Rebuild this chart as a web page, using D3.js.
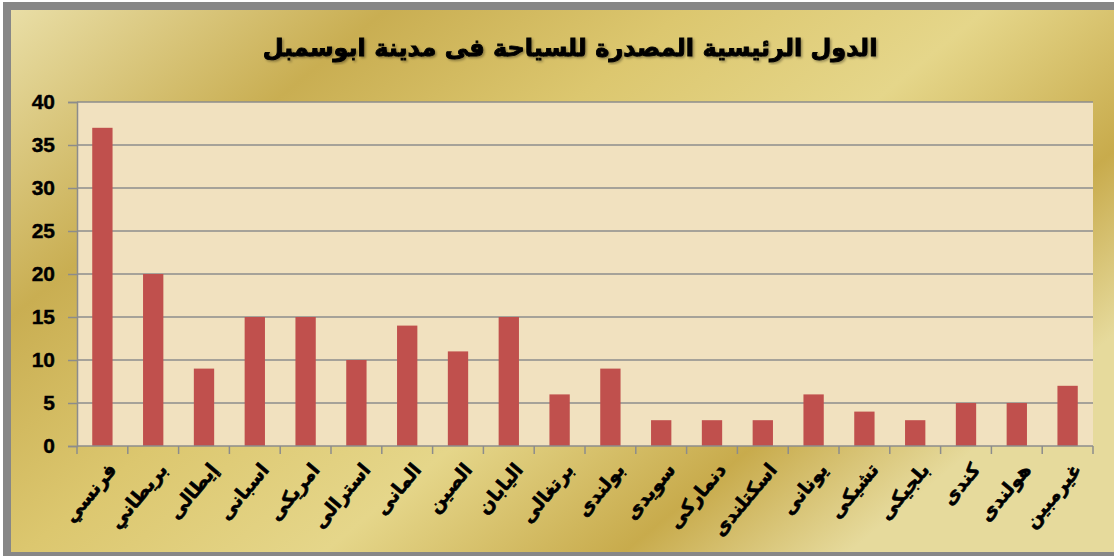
<!DOCTYPE html>
<html lang="ar">
<head>
    <meta charset="UTF-8">
    <title>الدول الرئيسية المصدرة للسياحة</title>
    <script src="https://d3js.org/d3.v7.min.js"></script>
    <style>
        body { margin: 0; background: #ffffff; }
        svg { display: block; }
    </style>
</head>
<body>
    <div id="chart"></div>

    <script>
        const countries = ["فرنسي", "بريطاني", "إيطالى", "اسبانى", "امريكى", "استرالى", "المانى", "الصين", "اليابان", "برتغالى",
            "بولندى", "سويدى", "دنماركى", "اسكتلندى", "يونانى", "تشيكى", "بلجيكى", "كندى", "هولندى", "غيرمبين"];
        const tourists = [37, 20, 9, 15, 15, 10, 14, 11, 15, 6, 9, 3, 3, 3, 6, 4, 3, 5, 5, 7];
        const yTicks = [0, 5, 10, 15, 20, 25, 30, 35, 40];
        const chartTitle = "الدول الرئيسية المصدرة للسياحة فى مدينة ابوسمبل";

        const W = 1114, H = 556;
        const margin = { top: 102, right: 21, bottom: 110, left: 77 };
        const width = W - margin.left - margin.right;
        const height = H - margin.top - margin.bottom;

        const svg = d3.select("#chart").append("svg")
            .attr("width", W)
            .attr("height", H);

        const defs = svg.append("defs");
        const gold = defs.append("linearGradient")
            .attr("id", "gold")
            .attr("x1", "0%").attr("y1", "0%")
            .attr("x2", "100%").attr("y2", "60%");
        [["0%", "#e9dea6"], ["25%", "#c9ae52"], ["45%", "#dcc76f"], ["65%", "#e5d68a"], ["85%", "#c8ab4c"], ["100%", "#e6da9c"]]
            .forEach(s => gold.append("stop").attr("offset", s[0]).attr("stop-color", s[1]));

        // grey frame + gold panel
        svg.append("rect").attr("x", 3).attr("y", 2).attr("width", W - 3).attr("height", H - 2).attr("fill", "#878787");
        svg.append("rect").attr("x", 11).attr("y", 10).attr("width", W - 11).attr("height", 542).attr("fill", "url(#gold)");

        const shadow = defs.append("filter").attr("id", "shadow");
        shadow.append("feDropShadow").attr("dx", 1.5).attr("dy", 1.5).attr("stdDeviation", 0.8)
            .attr("flood-color", "#000").attr("flood-opacity", 0.35);

        svg.append("text")
            .attr("x", 570)
            .attr("y", 56)
            .attr("text-anchor", "middle")
            .attr("direction", "rtl")
            .attr("filter", "url(#shadow)")
            .attr("stroke", "#000")
            .attr("stroke-width", 0.9)
            .style("font-family", "'DejaVu Sans', sans-serif")
            .style("font-weight", "bold")
            .style("font-size", "24px")
            .text(chartTitle);

        const g = svg.append("g").attr("transform", `translate(${margin.left},${margin.top})`);

        g.append("rect").attr("width", width).attr("height", height).attr("fill", "#f1e1bf");

        const x = d3.scaleBand().domain(countries).range([0, width]).paddingInner(0.6).paddingOuter(0.3);
        const y = d3.scaleLinear().domain([0, 40]).range([height, 0]);

        // grid lines
        g.selectAll(".grid").data(yTicks.slice(1)).enter().append("line")
            .attr("x1", 0).attr("x2", width)
            .attr("y1", d => y(d)).attr("y2", d => y(d))
            .attr("stroke", "#8c8c8c").attr("stroke-width", 1.5);

        g.selectAll(".bar").data(tourists).enter().append("rect")
            .attr("x", (d, i) => x(countries[i]))
            .attr("y", d => y(d))
            .attr("width", x.bandwidth())
            .attr("height", d => height - y(d))
            .attr("fill", "#c0504d");

        const yAxis = g.append("g")
            .call(d3.axisLeft(y).tickValues(yTicks).tickSize(9).tickPadding(13));
        yAxis.select(".domain").attr("stroke", "#8c8c8c").attr("stroke-width", 1.5);
        yAxis.selectAll(".tick line").attr("stroke", "#8c8c8c").attr("stroke-width", 1.5);
        yAxis.selectAll("text")
            .style("font-family", "'Liberation Sans', Arial, sans-serif")
            .style("font-weight", "bold")
            .style("font-size", "21px")
            .attr("stroke", "#000")
            .attr("stroke-width", 0.4)
            .attr("fill", "#000");

        // x axis: ticks at category boundaries
        const xAxis = g.append("g").attr("transform", `translate(0,${height})`);
        xAxis.append("line").attr("x1", 0).attr("x2", width).attr("stroke", "#8c8c8c").attr("stroke-width", 1.5);
        xAxis.selectAll(".tk").data(d3.range(countries.length + 1)).enter().append("line")
            .attr("x1", i => i * width / countries.length).attr("x2", i => i * width / countries.length)
            .attr("y1", 0).attr("y2", 8)
            .attr("stroke", "#8c8c8c").attr("stroke-width", 1.5);

        xAxis.selectAll(".lbl").data(countries).enter().append("text")
            .attr("transform", d => `translate(${x(d) + x.bandwidth() / 2 + 10},${20}) rotate(-50)`)
            .attr("text-anchor", "end")
            .attr("dy", "0.35em")
            .attr("stroke", "#000")
            .attr("stroke-width", 0.6)
            .style("font-family", "'DejaVu Sans', sans-serif")
            .style("font-weight", "bold")
            .style("font-size", "19px")
            .text(d => d);
    </script>
</body>
</html>
